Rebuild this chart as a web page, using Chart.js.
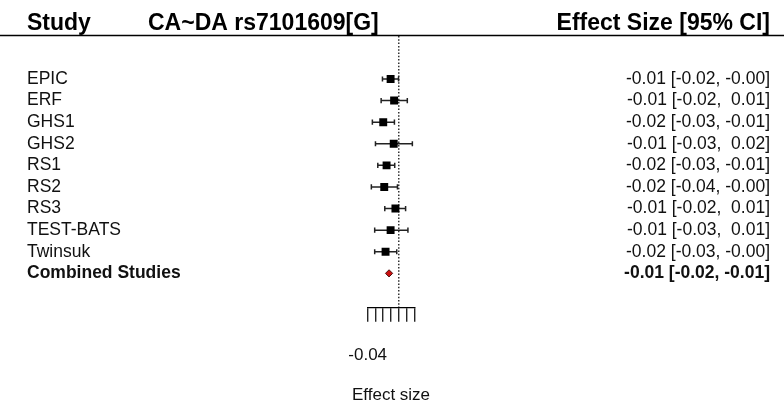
<!DOCTYPE html>
<html>
<head>
<meta charset="utf-8">
<script src="https://cdn.jsdelivr.net/npm/chart.js@4"></script>
<style>
  html, body { margin: 0; padding: 0; background: #fff; }
  #wrap { width: 784px; height: 407px; }
</style>
</head>
<body>
<div id="wrap"><canvas id="forest"></canvas></div>
<script>
// studies, one row each (last row = pooled estimate)
var studies = ['EPIC', 'ERF', 'GHS1', 'GHS2', 'RS1', 'RS2', 'RS3', 'TEST-BATS', 'Twinsuk', 'Combined Studies'];
var estimate = [-0.0105, -0.006, -0.020, -0.0065, -0.0157, -0.0187, -0.0043, -0.0105, -0.017, -0.0125];
var ciLow    = [-0.021, -0.0227, -0.034, -0.030, -0.027, -0.0353, -0.018, -0.031, -0.031, -0.017];
var ciHigh   = [-0.0003, 0.011, -0.0056, 0.0175, -0.0052, -0.0017, 0.0088, 0.0118, -0.0026, -0.008];
var ciText   = ['-0.01 [-0.02, -0.00]', '-0.01 [-0.02,  0.01]', '-0.02 [-0.03, -0.01]', '-0.01 [-0.03,  0.02]',
                '-0.02 [-0.03, -0.01]', '-0.02 [-0.04, -0.00]', '-0.01 [-0.02,  0.01]', '-0.01 [-0.03,  0.01]',
                '-0.02 [-0.03, -0.00]', '-0.01 [-0.02, -0.01]'];
var xTicks = [-0.04, -0.03, -0.02, -0.01, 0, 0.01, 0.02];

var nStudy = studies.length - 1;
var font = '"Liberation Sans", Arial, Helvetica, sans-serif';

// squares for single studies
var squares = [];
for (var i = 0; i < nStudy; i++) squares.push({ x: estimate[i], y: i });

// whiskers, broken by a null point between rows
var whiskers = [];
for (var i = 0; i < nStudy; i++) {
    whiskers.push({ x: ciLow[i], y: i });
    whiskers.push({ x: ciHigh[i], y: i });
    whiskers.push({ x: ciHigh[i], y: null });
}

var pooled = [{ x: estimate[nStudy], y: nStudy }];

// text columns, header and axis title drawn around the plot
var tableText = {
    id: 'tableText',
    afterDraw: function (chart) {
        var ctx = chart.ctx;
        var y = chart.scales.y;
        var x = chart.scales.x;
        ctx.save();
        ctx.fillStyle = '#000';
        ctx.textBaseline = 'alphabetic';
        ctx.font = 'bold 23px ' + font;
        ctx.textAlign = 'left';
        ctx.fillText('Study', 27, 29.5);
        ctx.fillText('CA~DA rs7101609[G]', 148, 29.5);
        ctx.textAlign = 'right';
        ctx.fillText('Effect Size [95% CI]', 770, 29.5);

        ctx.strokeStyle = '#000';
        ctx.lineWidth = 1.5;
        ctx.beginPath();
        ctx.moveTo(0, 35.5);
        ctx.lineTo(784, 35.5);
        ctx.stroke();

        ctx.textBaseline = 'middle';
        for (var i = 0; i < studies.length; i++) {
            var py = y.getPixelForValue(i);
            var bold = (i === nStudy) ? 'bold ' : '';
            ctx.fillStyle = '#111';
            ctx.font = bold + '17.5px ' + font;
            ctx.textAlign = 'left';
            ctx.fillText(studies[i], 27, py);
            ctx.textAlign = 'right';
            ctx.fillText(ciText[i], 770, py);
        }

        ctx.font = '17px ' + font;
        ctx.textAlign = 'center';
        ctx.fillText('Effect size', (x.left + x.right) / 2, 395.5);
        ctx.restore();
    }
};

var ctx = document.getElementById('forest');
new Chart(ctx, {
    type: 'scatter',
    data: {
        datasets: [{
            data: squares,
            pointStyle: 'rect',
            pointRadius: 5.6,
            backgroundColor: '#000',
            borderColor: '#000',
            borderWidth: 0
        }, {
            data: pooled,
            pointStyle: 'rectRot',
            pointRadius: 3.6,
            backgroundColor: '#cc1010',
            borderColor: '#4a1010',
            borderWidth: 1
        }, {
            type: 'line',
            data: whiskers,
            spanGaps: false,
            borderColor: '#222',
            borderWidth: 1.5,
            pointStyle: 'line',
            pointRotation: 90,
            pointRadius: 2.6,
            pointBorderColor: '#222',
            pointBorderWidth: 1.5
        }]
    },
    options: {
        responsive: true,
        maintainAspectRatio: false,
        animation: false,
        events: [],
        layout: { padding: { left: 367.7, right: 369.7, top: 36, bottom: 0 } },
        plugins: { legend: { display: false }, tooltip: { enabled: false } },
        scales: {
            x: {
                type: 'linear',
                min: xTicks[0],
                max: xTicks[xTicks.length - 1],
                afterBuildTicks: function (axis) {
                    axis.ticks = xTicks.map(function (v) { return { value: v }; });
                },
                afterFit: function (axis) { axis.height = 99.3; },
                grid: {
                    drawOnChartArea: true,
                    color: function (c) {
                        return c.tick && Math.abs(c.tick.value) < 1e-9 ? '#333' : 'rgba(0,0,0,0)';
                    },
                    lineWidth: 1.5,
                    tickLength: 14,
                    tickColor: '#000',
                    tickWidth: 1.2,
                    tickBorderDash: []
                },
                border: { display: true, color: '#000', width: 1.2, dash: [1.5, 1.8] },
                ticks: {
                    autoSkip: false,
                    maxRotation: 0,
                    minRotation: 0,
                    padding: 23,
                    color: '#111',
                    font: { family: font, size: 17 },
                    // neighbouring labels overlap, only the first one is kept
                    callback: function (value, index) { return index === 0 ? value.toFixed(2) : ''; }
                }
            },
            y: {
                type: 'linear',
                display: false,
                reverse: true,
                min: -1.99,
                max: 10.59
            }
        }
    },
    plugins: [tableText]
});
</script>
</body>
</html>
